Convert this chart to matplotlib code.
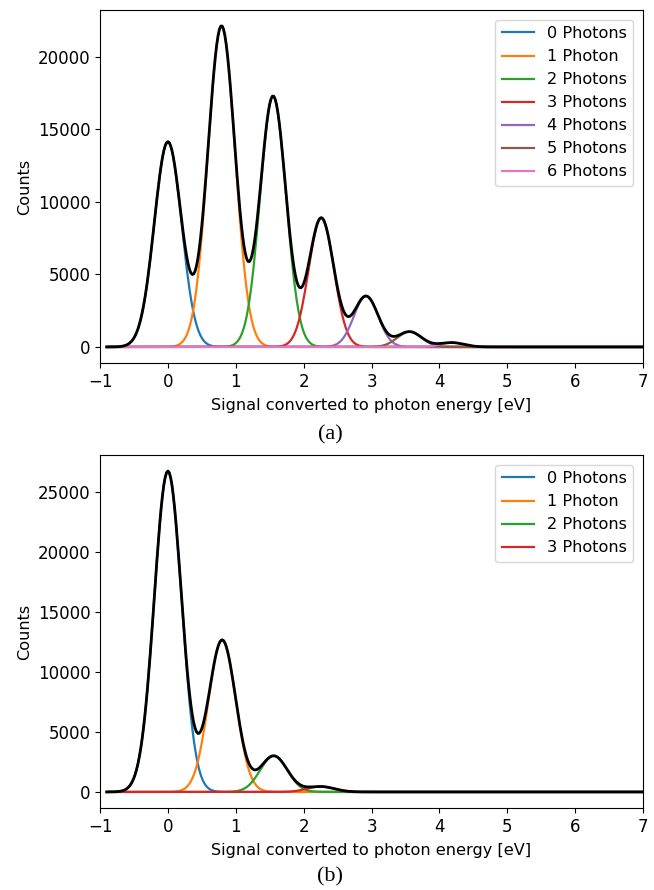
import numpy as np
import matplotlib
matplotlib.use('Agg')
import matplotlib.pyplot as plt

# fitted peak parameters
labels_a = ['0 Photons', '1 Photon', '2 Photons', '3 Photons', '4 Photons', '5 Photons', '6 Photons']
centers_a = [0.0, 0.79, 1.55, 2.26, 2.92, 3.56, 4.18]
amps_a = [14150, 22150, 17300, 8900, 3500, 1050, 300]
sigmas_a = [0.20, 0.20, 0.19, 0.185, 0.18, 0.18, 0.18]

labels_b = ['0 Photons', '1 Photon', '2 Photons', '3 Photons']
centers_b = [0.0, 0.80, 1.56, 2.25]
amps_b = [26700, 12650, 3000, 450]
sigmas_b = [0.20, 0.20, 0.20, 0.20]

x_start, x_end, x_step = -0.9, 7.0, 0.02

colors = ['#1f77b4', '#ff7f0e', '#2ca02c', '#d62728', '#9467bd', '#8c564b', '#e377c2']

plt.rcParams['font.family'] = 'DejaVu Sans'
plt.rcParams['font.size'] = 11.6
plt.rcParams['xtick.labelsize'] = 12
plt.rcParams['ytick.labelsize'] = 12


def gauss(x, a, c, s):
    return a * np.exp(-(x - c) ** 2 / (2 * s ** 2))


def panel(ax, labels, centers, amps, sigmas):
    x = np.arange(x_start, x_end + x_step / 2, x_step)
    total = np.zeros_like(x)
    for i, (lab, c, a, s) in enumerate(zip(labels, centers, amps, sigmas)):
        y = gauss(x, a, c, s)
        total += y
        ax.plot(x, y, color=colors[i], lw=1.6, label=lab)
    ax.plot(x, total, color='black', lw=2.0)
    ax.set_xlim(-1, 7)
    ax.set_xticks(range(-1, 8))
    ax.set_ylabel('Counts')
    ax.set_xlabel('Signal converted to photon energy [eV]', labelpad=5)
    ax.legend(loc='upper right', fontsize=11.6, handlelength=2.0, borderaxespad=0.6)


fig = plt.figure(figsize=(6.54, 8.9), dpi=100)
ax1 = fig.add_axes([100 / 654, 1 - 363 / 890, 543 / 654, 353 / 890])
ax2 = fig.add_axes([100 / 654, 1 - 808 / 890, 543 / 654, 353 / 890])

panel(ax1, labels_a, centers_a, amps_a, sigmas_a)
panel(ax2, labels_b, centers_b, amps_b, sigmas_b)

fig.text(330 / 654, 1 - 435 / 890, '(a)', ha='center', va='center',
         family='Liberation Serif', fontsize=16)
fig.text(330 / 654, 1 - 877 / 890, '(b)', ha='center', va='center',
         family='Liberation Serif', fontsize=16)

fig.savefig('out.png', dpi=100)
